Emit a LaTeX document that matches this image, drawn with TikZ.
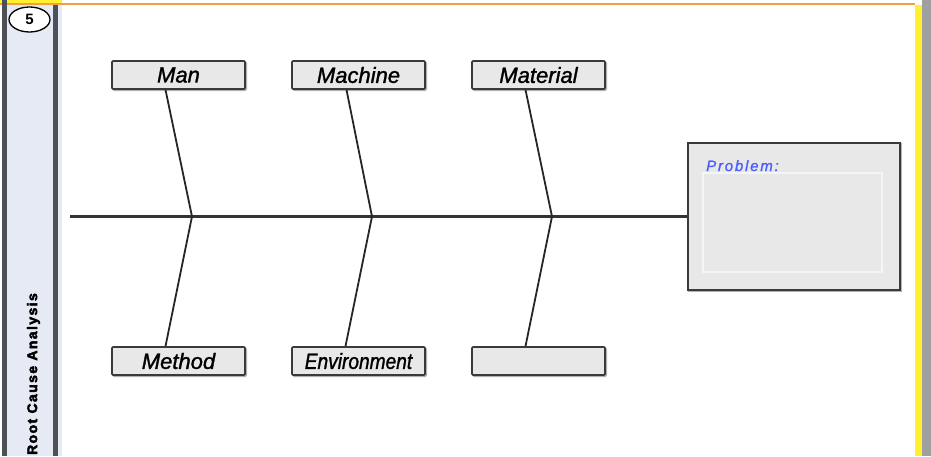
\documentclass[tikz,border=0pt]{standalone}
\usepackage{fontspec}
\setmainfont{Liberation Sans}
\newfontfamily\titlefont[LetterSpace=10,FakeBold=3]{Liberation Sans Bold}
\newfontfamily\labelfont[FakeBold=1.4]{Liberation Sans Italic}
\newfontfamily\probfont[LetterSpace=12,FakeBold=1]{Liberation Sans Italic}
\usetikzlibrary{calc,shapes.geometric}
\definecolor{boxfill}{HTML}{E8E8E8}
\definecolor{boxline}{HTML}{3A3A3A}
\definecolor{panelblue}{HTML}{E6EAF5}
\definecolor{paneldark}{HTML}{4E5058}
\definecolor{topyellow}{HTML}{FFF030}
\definecolor{toporange}{HTML}{F0A040}
\definecolor{rightgray}{HTML}{A0A0A0}
\definecolor{probblue}{HTML}{4A5CFF}
\tikzset{
  catbox/.style={draw=boxline, line width=1.6pt, fill=boxfill, rounded corners=1pt,
    minimum width=133pt, minimum height=28pt, inner sep=0pt,
    font=\fontsize{22}{24}\labelfont,
    preaction={draw=black!30, line width=1.6pt, fill=black!30, transform canvas={xshift=1.2pt,yshift=-1.2pt}}},
  bone/.style={draw=black!85, line width=1.8pt},
  spine/.style={draw=black!80, line width=2.2pt}
}
\begin{document}
\begin{tikzpicture}[x=1pt,y=-1pt]
\useasboundingbox (0,0) rectangle (931,456);
% frame decorations
\fill[white] (0,0) rectangle (931,456);
\fill[topyellow] (0,0) rectangle (62,3);
\fill[toporange] (0,3) rectangle (915,5);
\fill[topyellow] (915,5) rectangle (922,456);
\fill[rightgray] (922,0) rectangle (931,456);
\fill[paneldark] (2,0) rectangle (6.5,456);
\fill[panelblue] (6.5,5) rectangle (53,456);
\fill[paneldark] (53,5) rectangle (58,456);
\fill[panelblue] (58,5) rectangle (62,456);
\node[draw=black, line width=1.3pt, fill=white, ellipse, minimum width=41pt, minimum height=25pt, inner sep=0pt,
  font=\fontsize{15}{15}\selectfont\bfseries] (num) at (29.5,19.5) {5};
\node[rotate=90, anchor=east, inner sep=0pt, font=\fontsize{14}{14}\titlefont] (title) at (33.5,293) {Root Cause Analysis};
% category boxes
\node[catbox] (man) at (178.5,75) {Man};
\node[catbox] (machine) at (358.5,75) {Machine};
\node[catbox] (material) at (538.5,75) {Material};
\node[catbox] (method) at (178.5,361) {Method};
\node[catbox] (env) at (358.5,361) {\scalebox{0.87}[1]{Environment}};
\node[catbox] (blank) at (538.5,361) {};
% problem box
\node[draw=boxline, line width=1.8pt, fill=boxfill, minimum width=212pt, minimum height=147pt, inner sep=0pt,
  preaction={draw=black!30, line width=1.8pt, transform canvas={xshift=1.2pt,yshift=-1.2pt}}] (prob) at (794,216.5) {};
\node[draw=white!96!black, line width=1.4pt, minimum width=179pt, minimum height=99pt, inner sep=0pt] (probin) at (792.5,222.5) {};
\node[anchor=base west, inner sep=0pt, text=probblue, font=\fontsize{15}{16}\probfont] (plabel) at (706,171) {Problem:};
% spine
\coordinate (tail) at (70,216.5);
\draw[spine] (tail) -- (tail -| prob.west);
% bones
\coordinate (j1) at (192,216.5);
\coordinate (j2) at (372,216.5);
\coordinate (j3) at (552,216.5);
\draw[bone] ($(man.south)+(-13,0)$) -- (j1) -- ($(method.north)+(-13,0)$);
\draw[bone] ($(machine.south)+(-12,0)$) -- (j2) -- ($(env.north)+(-13,0)$);
\draw[bone] ($(material.south)+(-13,0)$) -- (j3) -- ($(blank.north)+(-13,0)$);
\end{tikzpicture}
\end{document}
